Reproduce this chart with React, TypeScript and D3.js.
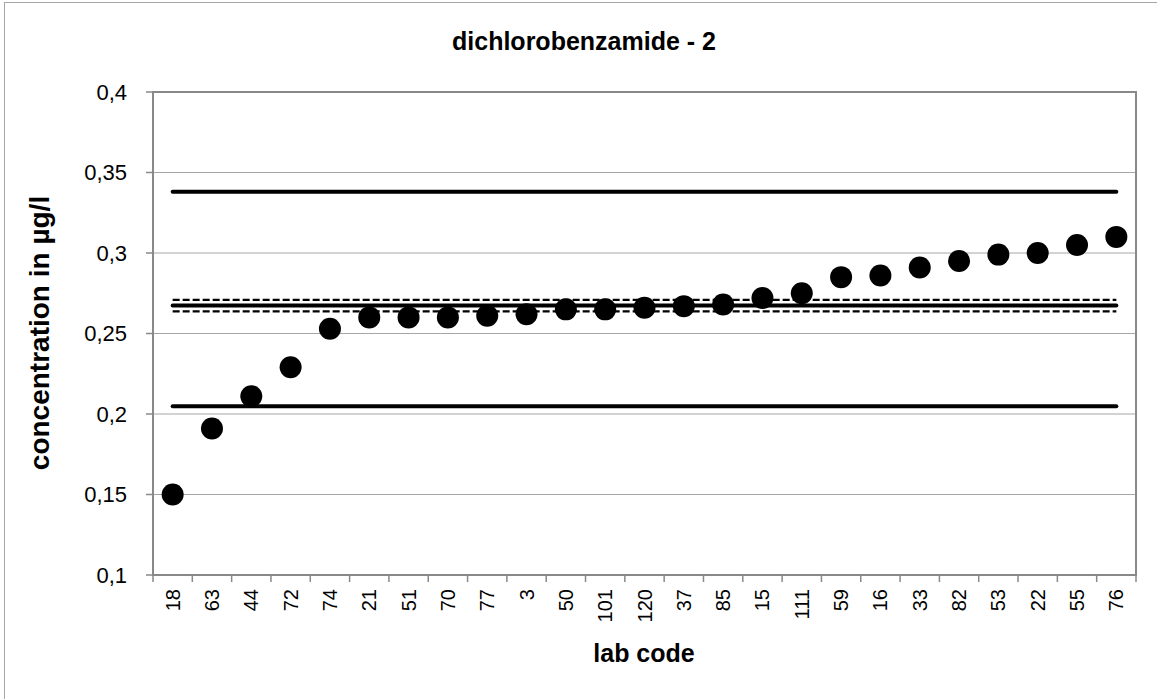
import React from "react";
import * as d3 from "d3";

const labCodes = ["18","63","44","72","74","21","51","70","77","3","50","101","120","37","85","15","111","59","16","33","82","53","22","55","76"];
const concentrations = [0.15,0.191,0.211,0.229,0.253,0.26,0.26,0.26,0.261,0.262,0.265,0.265,0.266,0.267,0.268,0.272,0.275,0.285,0.286,0.291,0.295,0.299,0.3,0.305,0.31];
const yTicks = [0.1,0.15,0.2,0.25,0.3,0.35,0.4];
const yTickLabels = ["0,1","0,15","0,2","0,25","0,3","0,35","0,4"];
const limitLines = [0.338, 0.2048];
const meanLine = 0.2674;
const uncertaintyLines = [0.2709, 0.2637];
const titleText = "dichlorobenzamide - 2";
const xAxisTitle = "lab code";
const yAxisTitle = "concentration in µg/l";

const W = 1157, H = 699;
const L = 153, R = 1136, T = 92, B = 575;

export default function App() {
  const x = d3.scaleBand<string>().domain(labCodes).range([L, R]).padding(0);
  const y = d3.scaleLinear().domain([0.1, 0.4]).range([B, T]);
  const cx = (c: string) => (x(c) as number) + x.bandwidth() / 2;
  const x0 = cx(labCodes[0]);
  const x1 = cx(labCodes[labCodes.length - 1]);
  const lineGen = d3.line<number[]>().x(d => d[0]).y(d => d[1]);
  const hline = (v: number) => lineGen([[x0, y(v)], [x1, y(v)]]) as string;
  const boundaries = labCodes.map(c => x(c) as number).concat([R]);
  const font = "'Liberation Sans', Arial, sans-serif";

  return (
    <svg width={W} height={H} style={{ position: "absolute", left: 0, top: 0, background: "#fff" }}>
      <rect x={0} y={0} width={W} height={H} fill="#fff" />
      <rect x={4.5} y={2.5} width={1170} height={720} fill="none" stroke="#a6a6a6" strokeWidth={1} />
      {/* gridlines */}
      {yTicks.map((t, i) => (
        <line key={"g" + i} x1={L} x2={R} y1={y(t)} y2={y(t)} stroke="#a6a6a6" strokeWidth={1} />
      ))}
      {/* plot border */}
      <rect x={L} y={T} width={R - L} height={B - T} fill="none" stroke="#898989" strokeWidth={2} />
      {/* y ticks */}
      {yTicks.map((t, i) => (
        <g key={"yt" + i}>
          <line x1={L - 7} x2={L} y1={y(t)} y2={y(t)} stroke="#898989" strokeWidth={1.5} />
          <text x={127} y={y(t)} dy="0.36em" textAnchor="end" fontFamily={font} fontSize={22} fill="#000">{yTickLabels[i]}</text>
        </g>
      ))}
      {/* x ticks */}
      {boundaries.map((bx, i) => (
        <line key={"xt" + i} x1={bx} x2={bx} y1={B} y2={B + 7} stroke="#898989" strokeWidth={1.5} />
      ))}
      {labCodes.map((c, i) => (
        <text key={"xl" + i} transform={`translate(${cx(c) + 7},${589}) rotate(-90)`} textAnchor="end" fontFamily={font} fontSize={20} fill="#000">{c}</text>
      ))}
      {/* reference lines */}
      {limitLines.map((v, i) => (
        <path key={"ll" + i} d={hline(v)} stroke="#000" strokeWidth={4} strokeLinecap="round" fill="none" />
      ))}
      <path d={hline(meanLine)} stroke="#000" strokeWidth={4} strokeLinecap="round" fill="none" />
      {uncertaintyLines.map((v, i) => (
        <path key={"ul" + i} d={hline(v)} stroke="#000" strokeWidth={2.2} strokeDasharray="7 3" fill="none" />
      ))}
      {/* points */}
      {labCodes.map((c, i) => (
        <circle key={"p" + i} cx={cx(c)} cy={y(concentrations[i])} r={11} fill="#000" />
      ))}
      {/* titles */}
      <text x={584} y={50} textAnchor="middle" fontFamily={font} fontWeight="bold" fontSize={25} fill="#000">{titleText}</text>
      <text x={644} y={662} textAnchor="middle" fontFamily={font} fontWeight="bold" fontSize={25} fill="#000">{xAxisTitle}</text>
      <text transform={`translate(${49},${333}) rotate(-90)`} textAnchor="middle" fontFamily={font} fontWeight="bold" fontSize={28} fill="#000">{yAxisTitle}</text>
    </svg>
  );
}
